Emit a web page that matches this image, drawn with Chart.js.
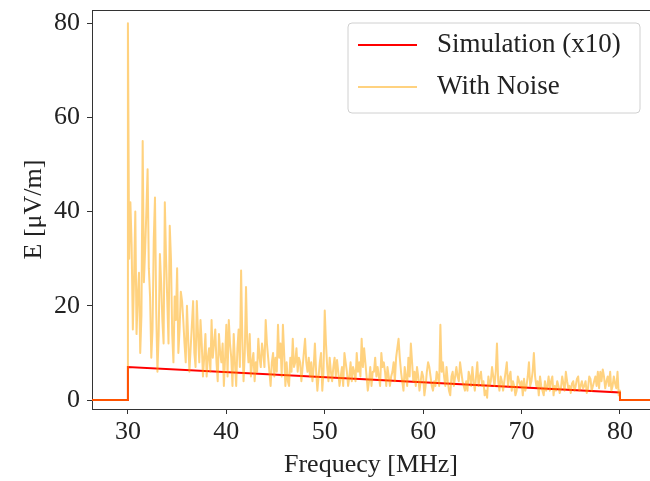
<!DOCTYPE html>
<html>
<head>
<meta charset="utf-8">
<script src="https://cdn.jsdelivr.net/npm/chart.js@4"></script>
<style>
  html, body { margin: 0; padding: 0; background: #fff; }
  #wrap { width: 650px; height: 481px; }
</style>
</head>
<body>
<div id="wrap"><canvas id="spectrum" width="650" height="481"></canvas></div>
<script>
// axis ticks
const xTicks = [30, 40, 50, 60, 70, 80]
const yTicks = [0, 20, 40, 60, 80]

// simulated field (x10), zero outside the 30-80 MHz band
const simFreq = [26, 30, 30, 80, 80, 84]
const simValues = [0, 0, 7, 1.6, 0, 0]

// noisy spectrum, evenly sampled from 30 to 80 MHz (one row block per decade)
const noiseStart = 30
const noiseEnd = 80
const noiseValues = [
  80, 30, 42, 33, 15, 26, 40, 14, 22, 27,
  10, 18, 55, 25, 32, 40, 49, 28, 22, 9,
  15, 34, 43, 19, 6, 14, 31, 25, 17, 12,
  42, 30, 21, 12, 37, 30, 14, 8, 22, 17,
  28, 10, 15, 23, 21, 17, 12, 8, 20, 13,
  6, 11, 16, 21, 10, 7, 21, 14, 8, 17,
  12, 5, 9, 14, 5, 9, 11, 6, 17, 9,
  12, 15, 8, 4, 14, 10, 8, 12, 3, 9,

  16, 5, 17, 12, 9, 3, 14, 8, 3, 11,
  15, 7, 27.5, 13, 4, 10, 24, 12, 8, 14,
  5, 8, 10, 4, 8, 6, 13, 9, 7, 12,
  10, 7, 17, 12, 9, 6, 3, 8, 10, 5,
  9, 6, 16, 9, 12, 5, 16, 10, 3, 8,
  4, 3, 9, 6, 13, 7, 8, 11, 6, 9,
  8, 4, 7, 10, 13, 8, 6, 9, 5, 8,
  4, 7, 12, 6, 2, 5, 8, 10, 2, 6,

  19, 12, 7, 4, 9, 6, 4, 7, 9, 5,
  8.5, 6, 3, 5, 7, 3, 10, 8, 6, 3,
  5, 8, 4, 7, 6, 4, 10, 6, 8, 5,
  13, 7, 11, 8, 5, 2, 4, 7, 3, 6,
  6, 9, 5, 7, 5, 3, 10, 7, 8, 6,
  3, 7, 5, 3, 5, 6, 8, 4, 9, 11,
  13, 9, 6, 4, 2, 7, 5, 3, 9, 5,
  12, 8, 4, 6, 3, 7, 5, 2, 4, 6,

  5, 1, 3, 6, 8, 7, 5, 3, 2, 4,
  3, 6, 5, 3, 16, 6, 8, 5, 3, 7,
  4, 2, 1, 5, 6, 3, 5, 7, 5, 4,
  8, 6, 4, 3, 2, 4, 2, 6, 5, 3,
  7, 4, 2, 5, 8, 3, 5, 6, 3, 4,
  1, 2, 0.5, 5, 3, 4, 7, 5, 3, 6,
  12, 4, 2, 5, 4, 2, 4, 6, 8, 3,
  5, 6, 2, 4, 3, 1, 2, 5, 4, 3,

  4, 1, 4.5, 2, 3, 5, 8, 3, 4, 6,
  10, 5, 3, 4, 1, 5, 3, 2, 1, 4,
  2, 3, 5, 2, 4, 5, 1, 3, 2, 4,
  3, 1.5, 2.5, 5, 3.5, 2, 6, 4, 2.5, 3,
  1.5, 3.5, 4, 2, 3, 4.5, 5, 2, 3, 4,
  2.5, 3, 4, 1.5, 2.5, 5, 4.5, 2, 3, 4,
  5, 3, 6, 2.5, 6, 4, 6.5, 5, 2.5, 4,
  5, 3, 6, 2, 3, 5, 3.5, 2.5, 6, 1,
  2
]
// noise spectrum is zero outside the band
const noiseLeadFreq = [26, 30]
const noiseTailFreq = [80, 84]

const seriesLabels = ["Simulation (x10)", "With Noise"]

const FONT = "'Liberation Serif', 'Times New Roman', serif"

// build point lists
const simPoints = simFreq.map((f, i) => ({ x: f, y: simValues[i] }))
const noiseStep = (noiseEnd - noiseStart) / (noiseValues.length - 1)
const noisePoints = []
noiseLeadFreq.forEach(f => noisePoints.push({ x: f, y: 0 }))
noiseValues.forEach((v, i) => noisePoints.push({ x: noiseStart + i * noiseStep, y: v }))
noiseTailFreq.forEach(f => noisePoints.push({ x: f, y: 0 }))

// top spine + legend box like matplotlib
const framePlugin = {
  id: "frame",
  afterDatasetsDraw(chart) {
    const { ctx, chartArea } = chart
    ctx.save()
    ctx.strokeStyle = "#333"
    ctx.lineWidth = 1
    ctx.beginPath()
    ctx.moveTo(chartArea.left, chartArea.top + 0.5)
    ctx.lineTo(chartArea.right, chartArea.top + 0.5)
    ctx.stroke()
    ctx.restore()
  },
  afterDraw(chart) {
    const ctx = chart.ctx
    const x0 = 348, y0 = 23, w = 292, h = 90, r = 4
    ctx.save()
    ctx.beginPath()
    ctx.moveTo(x0 + r, y0)
    ctx.arcTo(x0 + w, y0, x0 + w, y0 + h, r)
    ctx.arcTo(x0 + w, y0 + h, x0, y0 + h, r)
    ctx.arcTo(x0, y0 + h, x0, y0, r)
    ctx.arcTo(x0, y0, x0 + w, y0, r)
    ctx.closePath()
    ctx.fillStyle = "rgba(255,255,255,0.8)"
    ctx.fill()
    ctx.strokeStyle = "#d0d0d0"
    ctx.lineWidth = 1
    ctx.stroke()

    ctx.font = "27px " + FONT
    ctx.textBaseline = "middle"
    ctx.fillStyle = "#222"
    chart.data.datasets.forEach((ds, i) => {
      const y = 45 + i * 42
      ctx.strokeStyle = ds.borderColor
      ctx.lineWidth = 2
      ctx.beginPath()
      ctx.moveTo(358, y)
      ctx.lineTo(417, y)
      ctx.stroke()
      ctx.fillText(ds.label, 437, y)
    })
    ctx.restore()
  }
}

new Chart(document.getElementById("spectrum"), {
  type: "line",
  data: {
    datasets: [
      {
        label: seriesLabels[0],
        data: simPoints,
        borderColor: "#ff0000",
        borderWidth: 2,
        pointRadius: 0,
        tension: 0,
        order: 2
      },
      {
        label: seriesLabels[1],
        data: noisePoints,
        borderColor: "rgba(255,165,0,0.5)",
        borderWidth: 2,
        borderJoinStyle: "round",
        pointRadius: 0,
        tension: 0,
        order: 1
      }
    ]
  },
  options: {
    responsive: false,
    animation: false,
    devicePixelRatio: 1,
    layout: { padding: { top: 10, right: 0, left: 0, bottom: 0 } },
    plugins: {
      legend: { display: false },
      tooltip: { enabled: false }
    },
    scales: {
      x: {
        type: "linear",
        min: 26.35,
        max: 83.05,
        afterBuildTicks: s => { s.ticks = xTicks.map(v => ({ value: v })) },
        afterFit: s => { s.height = 72; s.paddingLeft = 0; s.paddingRight = 0 },
        grid: { drawOnChartArea: false, tickLength: 5, color: "#333", tickWidth: 1 },
        border: { color: "#333", width: 1 },
        ticks: { color: "#222", padding: 3, font: { family: FONT, size: 26 }, maxRotation: 0 },
        title: {
          display: true,
          text: "Frequecy [MHz]",
          color: "#222",
          font: { family: FONT, size: 26 },
          padding: { top: 0, bottom: 0 }
        }
      },
      y: {
        min: -1.9,
        max: 82.8,
        afterBuildTicks: s => { s.ticks = yTicks.map(v => ({ value: v })) },
        afterFit: s => { s.width = 92; s.paddingTop = 0; s.paddingBottom = 0 },
        grid: { drawOnChartArea: false, tickLength: 5, color: "#333", tickWidth: 1 },
        border: { color: "#333", width: 1 },
        ticks: { color: "#222", padding: 7, font: { family: FONT, size: 26 } },
        title: {
          display: true,
          text: "E [μV/m]",
          color: "#222",
          font: { family: FONT, size: 26 },
          padding: { top: 19, bottom: 0 }
        }
      }
    }
  },
  plugins: [framePlugin]
})
</script>
</body>
</html>
